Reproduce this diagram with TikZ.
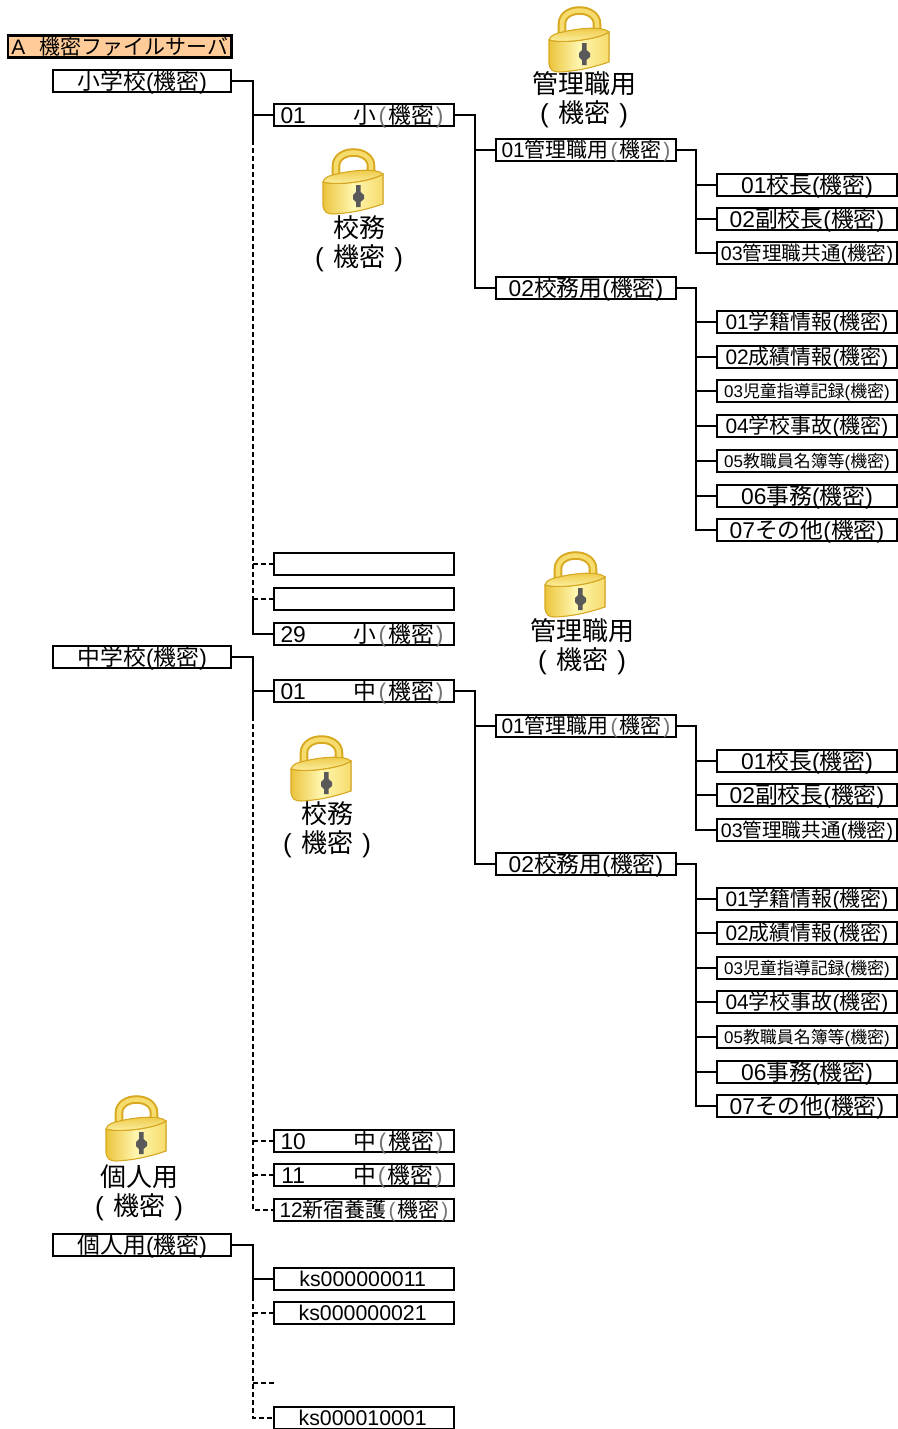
\documentclass[tikz,border=0pt]{standalone}
\usepackage{fontspec}
\setmainfont{Liberation Sans}
\newfontfamily\cjk{Noto Sans CJK JP}
\definecolor{lockedge}{HTML}{D8A820}
\definecolor{lockdark}{HTML}{EBC43C}
\definecolor{lockpale}{HTML}{FFF6B0}
\definecolor{locklite}{HTML}{F6DC6C}
\newcommand{\cj}[1]{{\cjk #1}}
\newcommand{\kim}{(\cj{機密})}
\newcommand{\kimg}{\hspace{1.5pt}\textcolor{black!55}{(}\hspace{1.5pt}\cj{機密}\hspace{1.5pt}\textcolor{black!55}{)}}
\newcommand{\fs}[1]{\fontsize{#1}{#1}\selectfont}
\tikzset{lockicon/.pic={
    \draw[line width=6.4pt,color=lockedge] (13,30) -- (13,18) .. controls (13,0) and (48,0) .. (48,18) -- (48,27);
    \draw[line width=3.4pt,color=locklite] (13,30) -- (13,18) .. controls (13,0) and (48,0) .. (48,18) -- (48,27);
    \fill[left color=lockdark,right color=locklite,middle color=lockpale,draw=lockedge,line width=0.8pt] (0,34) -- (0,58) .. controls (1,64) and (4,66) .. (10,66) .. controls (30,65) and (45,61) .. (60,56) -- (60,26) .. controls (50,33) and (15,38) .. (0,34) -- cycle;
    \fill[top color=lockdark,bottom color=lockpale,draw=lockedge,line width=0.8pt] (0,34) .. controls (1,29) and (8,27) .. (14,26) .. controls (30,22) and (54,20) .. (60,26) .. controls (50,33) and (15,38) .. (0,34) -- cycle;
    \fill[black!65] (33,37) -- (37.5,37) -- (37.5,44) -- (41,47) -- (41,51) -- (37.5,54) -- (37.5,59) -- (33,59) -- (33,54) -- (30,51) -- (30,47) -- (33,44) -- cycle;
}}
\begin{document}
\begin{tikzpicture}[x=0.75pt,y=-0.75pt,
    main/.style = {draw,line width=1.7pt,inner sep=0pt,minimum width=135pt,text height=14.25pt,text depth=2.25pt,font=\fs{17.1}},
    head/.style = {main,fill=orange!40,minimum width=167.5pt,font=\fs{15.7}},
    group/.style = {main,minimum width=133.5pt},
    mid/.style = {main,text height=14pt,text depth=2.5pt,font=\fs{15.7}},
    small/.style = {main,text height=13.5pt,text depth=3pt,font=\fs{14.7}},
    tiny/.style = {main,text height=13pt,text depth=3.5pt,font=\fs{12.7}},
    lbl/.style = {align=center,inner sep=0pt,font=\fontsize{19.5}{21.9}\selectfont},
    link/.style = {line width=1.7pt},
    dlink/.style = {line width=1.7pt,dash pattern=on 4pt off 2pt}]
    \useasboundingbox (0,0) rectangle (898,1429);
    \node at (119.7,46.5) [head] (top) {A\hspace{11pt}\cj{機密ファイルサーバ}};
    % first group
    \node at (142.3,81) [group] (sho) {\cj{小学校}\kim};
    \node at (364,115) [main] (s01) {01\hspace{36pt}\cj{小}\kimg\rule{3pt}{0pt}};
    \node at (586,150) [mid] (skan) {01\cj{管理職用}\kimg};
    \node at (586,288) [main] (skou) {02\cj{校務用}\kim};
    \node at (807,185) [main] (sa1) {01\cj{校長}\kim};
    \node at (807,219) [main] (sa2) {02\cj{副校長}\kim};
    \node at (807,253) [small] (sa3) {03\cj{管理職共通}\kim};
    \node at (807,322) [mid] (sb1) {01\cj{学籍情報}\kim};
    \node at (807,357) [mid] (sb2) {02\cj{成績情報}\kim};
    \node at (807,391) [tiny] (sb3) {03\cj{児童指導記録}\kim};
    \node at (807,426) [mid] (sb4) {04\cj{学校事故}\kim};
    \node at (807,461) [tiny] (sb5) {05\cj{教職員名簿等}\kim};
    \node at (807,496) [main] (sb6) {06\cj{事務}\kim};
    \node at (807,530) [main] (sb7) {07\cj{その他}\kim};
    \node at (364,564) [main] (s02) {};
    \node at (364,599) [main] (s03) {};
    \node at (364,634) [main] (s29) {29\hspace{36pt}\cj{小}\kimg\rule{3pt}{0pt}};
    % second group
    \node at (142.3,657) [group] (chu) {\cj{中学校}\kim};
    \node at (364,691) [main] (c01) {01\hspace{36pt}\cj{中}\kimg\rule{3pt}{0pt}};
    \node at (586,726) [mid] (ckan) {01\cj{管理職用}\kimg};
    \node at (586,864) [main] (ckou) {02\cj{校務用}\kim};
    \node at (807,761) [main] (ca1) {01\cj{校長}\kim};
    \node at (807,795) [main] (ca2) {02\cj{副校長}\kim};
    \node at (807,830) [small] (ca3) {03\cj{管理職共通}\kim};
    \node at (807,899) [mid] (cb1) {01\cj{学籍情報}\kim};
    \node at (807,933) [mid] (cb2) {02\cj{成績情報}\kim};
    \node at (807,968) [tiny] (cb3) {03\cj{児童指導記録}\kim};
    \node at (807,1002) [mid] (cb4) {04\cj{学校事故}\kim};
    \node at (807,1037) [tiny] (cb5) {05\cj{教職員名簿等}\kim};
    \node at (807,1072) [main] (cb6) {06\cj{事務}\kim};
    \node at (807,1106) [main] (cb7) {07\cj{その他}\kim};
    \node at (364,1141) [main] (c10) {10\hspace{36pt}\cj{中}\kimg\rule{3pt}{0pt}};
    \node at (364,1175) [main] (c11) {11\hspace{36pt}\cj{中}\kimg\rule{3pt}{0pt}};
    \node at (364,1210) [mid] (c12) {12\cj{新宿養護}\kimg};
    % third group
    \node at (142.3,1245) [group] (kojin) {\cj{個人用}\kim};
    \node at (364,1279) [mid,font=\fs{16}] (k11) {ks000000011\rule{2pt}{0pt}};
    \node at (364,1313) [mid,font=\fs{16}] (k21) {ks000000021\rule{2pt}{0pt}};
    \node at (364,1418) [mid,font=\fs{16}] (k01) {ks000010001\rule{2pt}{0pt}};
    % lock labels
    \pic at (549,6) {lockicon};
    \pic at (323,148) {lockicon};
    \pic at (545,551) {lockicon};
    \pic at (291,735) {lockicon};
    \pic at (106,1095) {lockicon};
    \node at (584,100) [lbl] (l1) {\cj{管理職用}\\(\hspace{7pt}\cj{機密}\hspace{7pt})};
    \node at (359,243.5) [lbl] (l2) {\cj{校務}\\(\hspace{7pt}\cj{機密}\hspace{7pt})};
    \node at (582,646.5) [lbl] (l3) {\cj{管理職用}\\(\hspace{7pt}\cj{機密}\hspace{7pt})};
    \node at (327,830) [lbl] (l4) {\cj{校務}\\(\hspace{7pt}\cj{機密}\hspace{7pt})};
    \node at (139,1193) [lbl] (l5) {\cj{個人用}\\(\hspace{7pt}\cj{機密}\hspace{7pt})};
    % trunk points
    \coordinate (t1) at (253,81);
    \coordinate (t2) at (253,140);
    \coordinate (t3) at (253,600);
    \coordinate (t4) at (253,657);
    \coordinate (t5) at (253,716);
    \coordinate (t6) at (253,1245);
    \coordinate (t7) at (253,1296);
    \coordinate (t8) at (274,1383);
    \coordinate (m1) at (475,115);
    \coordinate (m2) at (475,691);
    \coordinate (r1) at (696,150);
    \coordinate (r2) at (696,288);
    \coordinate (r3) at (696,726);
    \coordinate (r4) at (696,864);
    % connectors
    \draw[link] (sho.east) -- (t1) -- (t2);
    \draw[link] (t1 |- s01) -- (s01.west);
    \draw[dlink] (t2) -- (t3);
    \draw[dlink] (t2 |- s02) -- (s02.west);
    \draw[dlink] (t2 |- s03) -- (s03.west);
    \draw[link] (t3) |- (s29.west);
    \draw[link] (s01.east) -- (m1) |- (skou.west);
    \draw[link] (m1 |- skan) -- (skan.west);
    \draw[link] (skan.east) -- (r1) |- (sa3.west);
    \draw[link] (r1 |- sa1) -- (sa1.west);
    \draw[link] (r1 |- sa2) -- (sa2.west);
    \draw[link] (skou.east) -- (r2) |- (sb7.west);
    \draw[link] (r2 |- sb1) -- (sb1.west);
    \draw[link] (r2 |- sb2) -- (sb2.west);
    \draw[link] (r2 |- sb3) -- (sb3.west);
    \draw[link] (r2 |- sb4) -- (sb4.west);
    \draw[link] (r2 |- sb5) -- (sb5.west);
    \draw[link] (r2 |- sb6) -- (sb6.west);
    \draw[link] (chu.east) -- (t4) -- (t5);
    \draw[link] (t4 |- c01) -- (c01.west);
    \draw[dlink] (t5) |- (c12.west);
    \draw[dlink] (t5 |- c10) -- (c10.west);
    \draw[dlink] (t5 |- c11) -- (c11.west);
    \draw[link] (c01.east) -- (m2) |- (ckou.west);
    \draw[link] (m2 |- ckan) -- (ckan.west);
    \draw[link] (ckan.east) -- (r3) |- (ca3.west);
    \draw[link] (r3 |- ca1) -- (ca1.west);
    \draw[link] (r3 |- ca2) -- (ca2.west);
    \draw[link] (ckou.east) -- (r4) |- (cb7.west);
    \draw[link] (r4 |- cb1) -- (cb1.west);
    \draw[link] (r4 |- cb2) -- (cb2.west);
    \draw[link] (r4 |- cb3) -- (cb3.west);
    \draw[link] (r4 |- cb4) -- (cb4.west);
    \draw[link] (r4 |- cb5) -- (cb5.west);
    \draw[link] (r4 |- cb6) -- (cb6.west);
    \draw[link] (kojin.east) -- (t6) -- (t7);
    \draw[link] (t6 |- k11) -- (k11.west);
    \draw[dlink] (t7) |- (k01.west);
    \draw[dlink] (t7 |- k21) -- (k21.west);
    \draw[dlink] (t7 |- t8) -- (t8);
\end{tikzpicture}
\end{document}
